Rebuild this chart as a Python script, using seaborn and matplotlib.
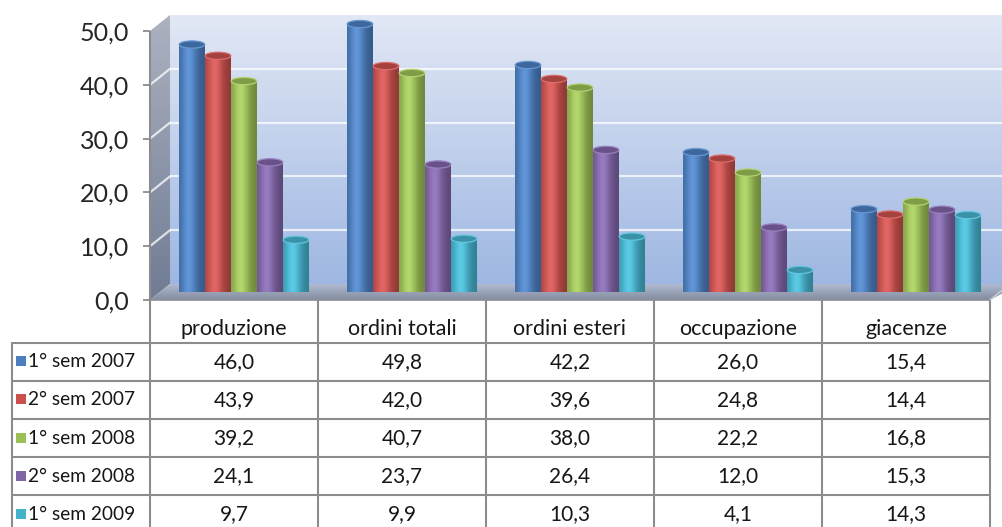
import numpy as np
import pandas as pd
import matplotlib
matplotlib.use("Agg")
import matplotlib.pyplot as plt
import seaborn as sns
from matplotlib.patches import Polygon, Ellipse, PathPatch, Rectangle
from matplotlib.path import Path
from matplotlib.colors import to_rgb

# ---- data -------------------------------------------------------------
categorie = ["produzione", "ordini totali", "ordini esteri", "occupazione", "giacenze"]
serie = ["1° sem 2007", "2° sem 2007", "1° sem 2008", "2° sem 2008", "1° sem 2009"]
sem1_2007 = [46.0, 49.8, 42.2, 26.0, 15.4]
sem2_2007 = [43.9, 42.0, 39.6, 24.8, 14.4]
sem1_2008 = [39.2, 40.7, 38.0, 22.2, 16.8]
sem2_2008 = [24.1, 23.7, 26.4, 12.0, 15.3]
sem1_2009 = [9.7, 9.9, 10.3, 4.1, 14.3]
valori_y = [0, 10, 20, 30, 40, 50]
colori = ["#4a7ebf", "#c9504d", "#9bbf55", "#8064a8", "#45b2cc"]

valori = [sem1_2007, sem2_2007, sem1_2008, sem2_2008, sem1_2009]
df = pd.DataFrame(
    [(c, s, v) for s, vals in zip(serie, valori) for c, v in zip(categorie, vals)],
    columns=["categoria", "serie", "valore"],
)


def virgola(v):
    return f"{v:.1f}".replace(".", ",")


sns.set_theme(style="white")
plt.rcParams["font.family"] = ["Lato", "DejaVu Sans"]

W, H = 1002, 527
fig = plt.figure(figsize=(W / 100, H / 100), dpi=100)
fig.patch.set_facecolor("white")

# ---- geometry (pixels) ------------------------------------------------
FX0, FX1 = 150, 990          # front plane left/right
FY0 = 300                    # front plane baseline
PXU = 269 / 50               # pixels per unit
DX, DY = 20, -16             # back-wall depth offset
MX, MY = 10, -8              # plane where the cylinders stand
YMAX = valori_y[-1]

bg = fig.add_axes([0, 0, 1, 1], zorder=0)
bg.set_xlim(0, W)
bg.set_ylim(H, 0)
bg.axis("off")


def vgrad(top, bottom, n=256):
    t = np.linspace(0, 1, n)[:, None, None]
    return (1 - t) * np.array(top)[None, None, :] + t * np.array(bottom)[None, None, :]


def rgb255(*c):
    return tuple(x / 255 for x in c)


# back wall
bx0, bx1 = FX0 + DX, FX1 + DX + 10
by0, by1 = FY0 + DY, FY0 + DY - YMAX * PXU
wall = Polygon([(bx0, by0), (bx0, by1), (bx1, by1), (bx1, by0)], closed=True,
               facecolor="none", edgecolor="none")
bg.add_patch(wall)
im = bg.imshow(vgrad(rgb255(226, 232, 245), rgb255(158, 183, 226)),
               extent=(bx0, bx1, by0, by1), aspect="auto", zorder=1)
im.set_clip_path(wall)

# side wall
side = Polygon([(FX0, FY0), (FX0, FY0 - YMAX * PXU), (bx0, by1), (bx0, by0)],
               closed=True, facecolor="none", edgecolor="none")
bg.add_patch(side)
im2 = bg.imshow(vgrad(rgb255(172, 178, 192), rgb255(112, 124, 148)),
                extent=(FX0, bx0, FY0, by1), aspect="auto", zorder=1)
im2.set_clip_path(side)

# gridlines on back wall and side wall
for v in valori_y[1:-1]:
    yb = by0 - v * PXU
    yf = FY0 - v * PXU
    bg.plot([bx0, bx1], [yb, yb], color="white", lw=1.6, alpha=0.75, zorder=2,
            solid_capstyle="butt")
    bg.plot([FX0, bx0], [yf, yb], color="white", lw=1.6, alpha=0.75, zorder=2)

# floor
floor = Polygon([(FX0, FY0), (bx0, by0), (bx1, by0), (FX1, FY0)], closed=True,
                facecolor="none", edgecolor="none")
bg.add_patch(floor)
im3 = bg.imshow(vgrad(rgb255(176, 186, 208), rgb255(132, 140, 158)),
                extent=(FX0, bx1, FY0, by0), aspect="auto", zorder=3)
im3.set_clip_path(floor)
bg.plot([FX0, FX1], [FY0, FY0], color="#8a8f9c", lw=1.2, zorder=4)
bg.plot([FX1, FX1 + DX], [FY0, by0], color="#c8cbd3", lw=1.2, zorder=4)

# ---- data table ---------------------------------------------------------
CW = (FX1 - FX0) / len(categorie)
TY_HEAD = 342.5
RH = 38.2
LX0 = 12
line_c = "#8c8c8c"
for k in range(len(categorie) + 1):
    x = FX0 + k * CW
    bg.plot([x, x], [FY0 - YMAX * PXU if k == 0 else FY0, H + 5], color=line_c,
            lw=1.5, zorder=5, solid_capstyle="butt")
bg.plot([LX0, LX0], [TY_HEAD, H + 5], color=line_c, lw=1.5, zorder=5)
for r in range(len(serie)):
    y = TY_HEAD + r * RH
    bg.plot([LX0, FX1], [y, y], color=line_c, lw=1.5, zorder=5)

txt_c = "#161616"
for j, cat in enumerate(categorie):
    bg.text(FX0 + (j + 0.5) * CW, 329, cat, ha="center", va="center",
            fontsize=15.5, color=txt_c, zorder=6)
for r, (s, vals, col) in enumerate(zip(serie, valori, colori)):
    yc = TY_HEAD + (r + 0.5) * RH
    bg.add_patch(Rectangle((16, yc - 5.5), 10, 10, facecolor=col, edgecolor="none",
                           zorder=6))
    bg.text(28, yc, s, ha="left", va="center", fontsize=13.8, color=txt_c,
            zorder=6)
    for j, v in enumerate(vals):
        bg.text(FX0 + (j + 0.5) * CW, yc, virgola(v), ha="center", va="center",
                fontsize=15, color=txt_c, zorder=6)

# ---- value axis (front plane) --------------------------------------------
ay = fig.add_axes([FX0 / W, (H - FY0) / H, 0.0001, YMAX * PXU / H], zorder=1)
ay.set_ylim(0, YMAX)
ay.set_yticks(valori_y)
ay.set_yticklabels([virgola(v) for v in valori_y])
ay.set_xticks([])
ay.tick_params(axis="y", direction="out", length=5, width=1.3, color="#8c8c8c",
               labelsize=18, labelcolor="#262626", pad=10, left=True)
for sp in ay.spines.values():
    sp.set_visible(False)
ay.patch.set_visible(False)

# ---- cylinders -------------------------------------------------------------
ax = fig.add_axes([(FX0 + MX) / W, (H - (FY0 + MY)) / H, (FX1 - FX0) / W,
                   YMAX * PXU / H], zorder=2)
sns.barplot(data=df, x="categoria", y="valore", hue="serie", order=categorie,
            hue_order=serie, palette=colori, saturation=1, width=0.774,
            errorbar=None, legend=False, ax=ax)
ax.set_xlim(-0.5, len(categorie) - 0.5)
ax.set_ylim(0, YMAX)
ax.axis("off")
ax.patch.set_visible(False)

EH = 1.35  # ellipse height in data units
tt = np.linspace(0, 1, 200)
prof = np.exp(-((tt - 0.36) / 0.34) ** 2)
edge_dark = 0.70 + 0.08 * (1 - tt)   # right edge a bit darker than the left

for cont, col in zip(ax.containers, colori):
    base = np.array(to_rgb(col))
    shade = edge_dark + (1.02 - edge_dark) * prof
    row = base[None, :] * shade[:, None] + 0.08 * prof[:, None] ** 2
    img = np.clip(row[None, :, :], 0, 1)
    for bar in cont:
        x0, w, h = bar.get_x(), bar.get_width(), bar.get_height()
        bar.set_visible(False)
        cx = x0 + w / 2
        ang = np.linspace(np.pi, 2 * np.pi, 40)
        arc = np.column_stack([cx + (w / 2) * np.cos(ang), (EH / 2) * np.sin(ang)])
        verts = np.vstack([[x0, h], arc, [x0 + w, h], [x0, h]])
        body = PathPatch(Path(verts, closed=True), facecolor="none",
                         edgecolor="none", clip_on=False)
        ax.add_patch(body)
        bim = ax.imshow(img, extent=(x0, x0 + w, -EH / 2, h), aspect="auto",
                        zorder=3, clip_on=True)
        bim.set_clip_path(body)
        top_face = base * 0.82
        top_edge = np.clip(base * 0.9 + 0.15, 0, 1)
        ax.add_patch(Ellipse((cx, h), w * 0.985, EH, facecolor=top_face,
                             edgecolor=top_edge, lw=0.9, zorder=4, clip_on=False))

ax.set_ylim(0, YMAX)
ax.set_xlim(-0.5, len(categorie) - 0.5)

fig.savefig("out.png", dpi=100)
